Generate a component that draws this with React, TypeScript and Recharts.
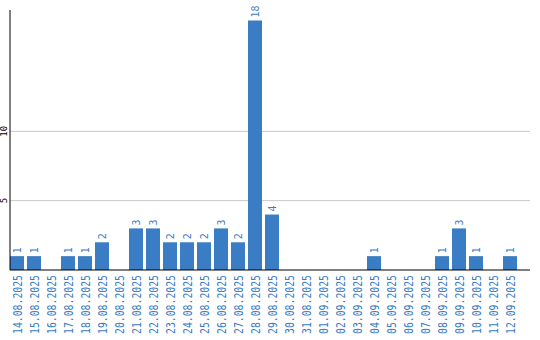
import React from "react";
import { BarChart, Bar, XAxis, YAxis, CartesianGrid, LabelList } from "recharts";

const dates = [
  "14.08.2025", "15.08.2025", "16.08.2025", "17.08.2025", "18.08.2025", "19.08.2025",
  "20.08.2025", "21.08.2025", "22.08.2025", "23.08.2025", "24.08.2025", "25.08.2025",
  "26.08.2025", "27.08.2025", "28.08.2025", "29.08.2025", "30.08.2025", "31.08.2025",
  "01.09.2025", "02.09.2025", "03.09.2025", "04.09.2025", "05.09.2025", "06.09.2025",
  "07.09.2025", "08.09.2025", "09.09.2025", "10.09.2025", "11.09.2025", "12.09.2025",
];
const counts = [1, 1, 0, 1, 1, 2, 0, 3, 3, 2, 2, 2, 3, 2, 18, 4, 0, 0, 0, 0, 0, 1, 0, 0, 0, 1, 3, 1, 0, 1];
const yTicks = [5, 10];

const data = dates.map((d, i) => ({ date: d, count: counts[i] }));

const BLUE = "#3a7dc4";
const FONT = "'DejaVu Sans Mono', monospace";

const XTick = (props: any) => {
  const { x, y, payload } = props;
  return (
    <g transform={`translate(${x},${y})`}>
      <text
        transform="rotate(-90)"
        x={-5}
        y={5}
        textAnchor="end"
        fill={BLUE}
        fontFamily={FONT}
        fontSize={12}
        textLength={59}
        lengthAdjust="spacingAndGlyphs"
      >
        {payload.value}
      </text>
    </g>
  );
};

const YTick = (props: any) => {
  const { y, payload } = props;
  return (
    <g transform={`translate(7,${y})`}>
      <text transform="rotate(-90)" x={0} y={0} textAnchor="middle" fill="#000" fontFamily={FONT} fontSize={9}>
        {payload.value}
      </text>
    </g>
  );
};

const ValueLabel = (props: any) => {
  const { x, y, width, value } = props;
  if (!value) return null;
  const cx = x + width / 2 + 4;
  return (
    <g transform={`translate(${cx},${y - 3})`}>
      <text transform="rotate(-90)" x={0} y={0} textAnchor="start" fill={BLUE} fontFamily={FONT} fontSize={10}>
        {value}
      </text>
    </g>
  );
};

export default function App() {
  return (
    <div style={{ position: "absolute", left: 0, top: 0 }}>
      <BarChart
        width={540}
        height={340}
        data={data}
        margin={{ top: 10, right: 10, bottom: 0, left: 0 }}
        barCategoryGap={1.5}
      >
        <CartesianGrid vertical={false} stroke="#c8c8c8" horizontalValues={yTicks} />
        <XAxis
          dataKey="date"
          interval={0}
          height={70}
          tickLine={false}
          tickSize={0}
          tickMargin={0}
          axisLine={{ stroke: "#000", strokeWidth: 1 }}
          padding={{ left: -1.5, right: 11.5 }}
          tick={<XTick />}
        />
        <YAxis
          width={10}
          domain={[0, 18.75]}
          ticks={yTicks}
          tickLine={false}
          tickSize={0}
          tickMargin={0}
          axisLine={{ stroke: "#000", strokeWidth: 1 }}
          tick={<YTick />}
          allowDataOverflow
        />
        <Bar dataKey="count" fill={BLUE} isAnimationActive={false}>
          <LabelList dataKey="count" content={<ValueLabel />} />
        </Bar>
      </BarChart>
    </div>
  );
}
